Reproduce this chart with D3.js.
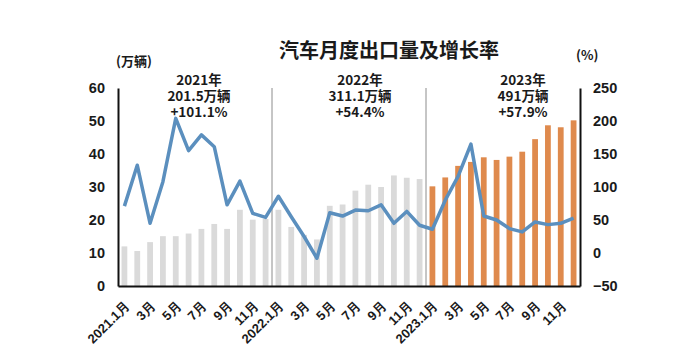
<!DOCTYPE html>
<html>
<head>
<meta charset="utf-8">
<script src="https://cdn.jsdelivr.net/npm/d3@7"></script>
<style>
  body { margin: 0; background: #fff; }
  svg { font-family: "Noto Sans CJK SC", "Noto Sans", sans-serif; }
</style>
</head>
<body>
<svg id="chart" width="691" height="353"></svg>
<script>
const months = [
  "2021.1月","2月","3月","4月","5月","6月","7月","8月","9月","10月","11月","12月",
  "2022.1月","2月","3月","4月","5月","6月","7月","8月","9月","10月","11月","12月",
  "2023.1月","2月","3月","4月","5月","6月","7月","8月","9月","10月","11月","12月"
];
// 出口量 (万辆)
const exports2021 = [12.0, 10.6, 13.3, 15.1, 15.1, 15.9, 17.3, 18.8, 17.3, 23.1, 20.1, 20.3];
const exports2022 = [23.1, 17.9, 15.5, 14.1, 24.3, 24.7, 28.9, 30.7, 30.0, 33.5, 32.8, 32.4];
const exports2023 = [30.2, 32.9, 36.4, 37.6, 39.0, 38.2, 39.2, 40.7, 44.5, 48.7, 48.1, 50.2];
// 增长率 (%)
const growth = [
  71, 133, 45, 108, 204, 155, 179, 161, 73, 109, 60, 54,
  86, 55, 25, -8, 61, 56, 65, 64, 73, 45, 63, 42,
  36, 80, 116, 165, 56, 50, 37, 32, 47, 43, 45, 53
];
const leftTicks = [0, 10, 20, 30, 40, 50, 60];
const rightTicks = [-50, 0, 50, 100, 150, 200, 250];
const yearNotes = [
  ["2021年", "201.5万辆", "+101.1%"],
  ["2022年", "311.1万辆", "+54.4%"],
  ["2023年", "491万辆", "+57.9%"]
];

const svg = d3.select("#chart");
const margin = { top: 88, right: 111, bottom: 67, left: 118 };
const width = +svg.attr("width");
const height = +svg.attr("height");
const innerW = width - margin.left - margin.right;
const innerH = height - margin.top - margin.bottom;
const g = svg.append("g").attr("transform", `translate(${margin.left},${margin.top})`);

const volumes = exports2021.concat(exports2022, exports2023);
const data = months.map((m, i) => ({ i, month: m, value: volumes[i], growth: growth[i] }));

const x = d3.scaleBand().domain(d3.range(months.length)).range([0, innerW]).paddingInner(0.55).paddingOuter(0.275);
const yL = d3.scaleLinear().domain([0, 60]).range([innerH, 0]);
const yR = d3.scaleLinear().domain([-50, 250]).range([innerH, 0]);

// year separators
[12, 24].forEach(k => {
  const sx = x.step() * k;
  g.append("line")
    .attr("x1", sx).attr("x2", sx)
    .attr("y1", 0).attr("y2", innerH)
    .attr("stroke", "#8c8c8c").attr("stroke-width", 1);
});

// bars
g.selectAll("rect.bar")
  .data(data)
  .join("rect")
  .attr("class", "bar")
  .attr("x", d => x(d.i))
  .attr("width", x.bandwidth())
  .attr("y", d => yL(d.value))
  .attr("height", d => yL(0) - yL(d.value))
  .attr("fill", d => d.i >= 24 ? "#df8a4d" : "#dadada");

// growth line
const line = d3.line()
  .x(d => x(d.i) + x.bandwidth() / 2)
  .y(d => yR(d.growth));

g.append("path")
  .datum(data)
  .attr("d", line)
  .attr("fill", "none")
  .attr("stroke", "#5b8fbe")
  .attr("stroke-width", 3.5)
  .attr("stroke-linejoin", "round");

// axes
const leftAxis = g.append("g")
  .call(d3.axisLeft(yL).tickValues(leftTicks).tickSize(0).tickPadding(13));
const rightAxis = g.append("g")
  .attr("transform", `translate(${innerW},0)`)
  .call(d3.axisRight(yR).tickValues(rightTicks).tickSize(0).tickPadding(13));
const bottomAxis = g.append("g")
  .attr("transform", `translate(0,${innerH})`)
  .call(d3.axisBottom(x).tickValues(d3.range(0, 36, 2)).tickFormat(i => months[i]).tickSize(0));

[leftAxis, rightAxis, bottomAxis].forEach(a => {
  a.select(".domain").attr("stroke", "#111").attr("stroke-width", 2);
  a.selectAll("text").attr("fill", "#1a1a1a").style("font-weight", 700);
});
leftAxis.selectAll("text").style("font-size", "14.5px");
rightAxis.selectAll("text").style("font-size", "14.5px");

bottomAxis.selectAll("text")
  .style("font-size", "13px")
  .attr("text-anchor", "end")
  .attr("dy", null)
  .attr("y", 0)
  .attr("transform", "translate(6,21) rotate(-45)");

// title & units
svg.append("text")
  .attr("x", 389).attr("y", 58)
  .attr("text-anchor", "middle")
  .style("font-size", "20px").style("font-weight", 700)
  .attr("fill", "#1a1a1a")
  .text("汽车月度出口量及增长率");

svg.append("text")
  .attr("x", 116).attr("y", 66)
  .style("font-size", "13px").style("font-weight", 700)
  .attr("fill", "#1a1a1a")
  .text("(万辆)");

svg.append("text")
  .attr("x", 576).attr("y", 60)
  .style("font-size", "13px").style("font-weight", 700)
  .attr("fill", "#1a1a1a")
  .text("(%)");

// year annotations
const noteX = [199, 360, 523];
yearNotes.forEach((lines, k) => {
  const t = svg.append("text")
    .attr("text-anchor", "middle")
    .style("font-size", "13.5px").style("font-weight", 700)
    .attr("fill", "#1a1a1a");
  lines.forEach((s, j) => {
    t.append("tspan").attr("x", noteX[k]).attr("y", 85 + j * 16).text(s);
  });
});
</script>
</body>
</html>
